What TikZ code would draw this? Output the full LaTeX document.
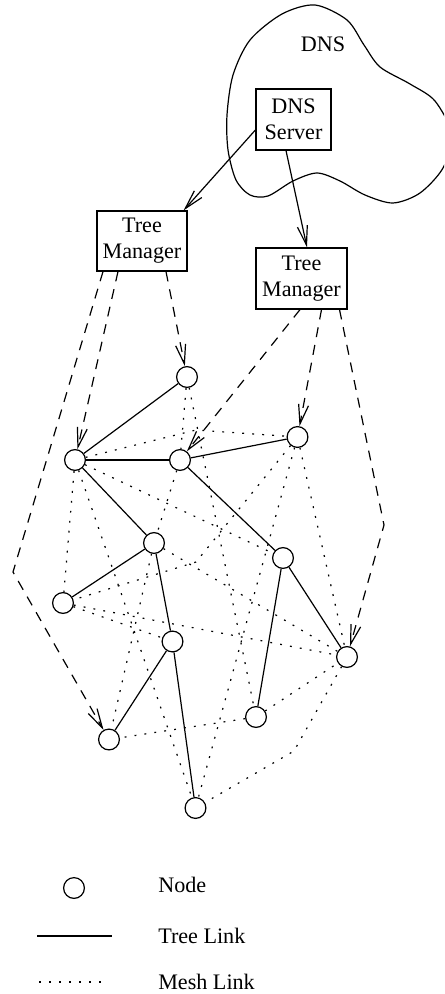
\documentclass[tikz,border=0pt]{standalone}
\usepackage{fontspec}
\setmainfont{Liberation Serif}
\usetikzlibrary{arrows.meta,calc}

\begin{document}
\begin{tikzpicture}[x=0.75pt,y=-0.75pt,
  every node/.style={font=\fontsize{16.6}{19.5}\selectfont},
  outline/.style={line width=0.9pt},
  netnode/.style={circle,draw,line width=0.9pt,minimum size=15.6pt,inner sep=0pt},
  box/.style={draw,line width=0.9pt,align=center,inner sep=0pt},
  label/.style={inner sep=0pt},
  tree/.style={line width=0.9pt},
  mesh/.style={line width=0.9pt,dash pattern=on 1.4pt off 6.1pt},
  tip/.style={-{Straight Barb[length=14.5pt,width=7.5pt]}},
  control/.style={line width=0.9pt,dash pattern=on 7.5pt off 6pt,tip},
  query/.style={line width=0.9pt,tip},
]
\useasboundingbox (0,0) rectangle (444,994);

% DNS cloud (runs off the right edge)
\begin{scope}
  \clip (0,0) rectangle (444,994);
  \draw[outline] plot[smooth cycle, tension=0.5] coordinates {
    (315,5) (347,20) (364,45) (380,67) (410,84) (435,101) (452,135)
    (443,168) (420,193) (393,203) (365,195) (340,181) (317,173)
    (293,181) (268,196) (250,195) (236,180) (228,150) (227,115)
    (233,75) (250,40) (282,14)};
\end{scope}
\node[label,anchor=base] (dnslabel) at (323,52) {DNS};

% servers
\node[box,minimum width=56.25pt,minimum height=45.75pt] (dns) at (293.5,119.5) {DNS\\Server};
\node[box,minimum width=67.5pt,minimum height=45pt] (tm1) at (142,241) {Tree\\Manager};
\node[box,minimum width=68.25pt,minimum height=45.75pt] (tm2) at (301.5,278.5) {Tree\\Manager};

% overlay nodes
\node[netnode] (A) at (187,377) {};
\node[netnode] (B) at (75,460) {};
\node[netnode] (C) at (180,460) {};
\node[netnode] (D) at (297.5,437) {};
\node[netnode] (E) at (154,543) {};
\node[netnode] (F) at (283,558) {};
\node[netnode] (G) at (63,603) {};
\node[netnode] (H) at (172.5,641.5) {};
\node[netnode] (I) at (347,657) {};
\node[netnode] (J) at (256,717) {};
\node[netnode] (K) at (109,739.5) {};
\node[netnode] (L) at (195.5,808) {};

% DNS referrals
\draw[query] ($(dns.west)+(0,10.5)$) -- ($(tm1.north east)+(-4,0)$);
\draw[query] ($(dns.south)+(-7.5,0)$) -- ($(tm2.north)+(5.5,0)$);

% tree manager control links
\coordinate (bendK) at (13,572);
\coordinate (bendI) at (384,525);
\draw[control] ($(tm1.south)+(-39,0)$) -- (bendK) -- (K);
\draw[control] ($(tm1.south)+(-24,0)$) -- (B);
\draw[control] ($(tm1.south)+(24,0)$) -- (A);
\draw[control] ($(tm2.south)+(-1.5,0)$) -- (C);
\draw[control] ($(tm2.south)+(20,0)$) -- (D);
\draw[control] ($(tm2.south)+(38,0)$) -- (bendI) -- (I);

% tree links
\draw[tree] (A) -- (B);
\draw[tree] (B) -- (C);
\draw[tree] (C) -- (D);
\draw[tree] (B) -- (E);
\draw[tree] (C) -- (F);
\draw[tree] (F) -- (I);
\draw[tree] (E) -- (G);
\draw[tree] (E) -- (H);
\draw[tree] (H) -- (K);
\draw[tree] (H) -- (L);
\draw[tree] (F) -- (J);

% mesh links
\coordinate (bendBD) at (196,430);
\coordinate (bendDG) at (196,562);
\coordinate (bendIL) at (294,751);
\draw[mesh] (A) -- (C);
\draw[mesh] (A) -- (J);
\draw[mesh] (B) -- (bendBD) -- (D);
\draw[mesh] (B) -- (G);
\draw[mesh] (B) -- (L);
\draw[mesh] (B) -- (F);
\draw[mesh] (C) -- (E);
\draw[mesh] (D) -- (bendDG) -- (G);
\draw[mesh] (D) -- (L);
\draw[mesh] (D) -- (I);
\draw[mesh] (E) -- (I);
\draw[mesh] (E) -- (K);
\draw[mesh] (G) -- (I);
\draw[mesh] (G) -- (H);
\draw[mesh] (J) -- (I);
\draw[mesh] (J) -- (K);
\draw[mesh] (I) -- (bendIL) -- (L);

% legend
\node[netnode] (legnode) at (74,888) {};
\node[label,anchor=base west] (legnodetext) at (158,892) {Node};
\coordinate (legtreeA) at (37,936);
\coordinate (legtreeB) at (112,936);
\draw[tree] (legtreeA) -- (legtreeB);
\node[label,anchor=base west] (legtreetext) at (158,943.5) {Tree Link};
\coordinate (legmeshA) at (39,982);
\coordinate (legmeshB) at (108,982);
\draw[mesh] (legmeshA) -- (legmeshB);
\node[label,anchor=base west] (legmeshtext) at (158,989) {Mesh Link};
\end{tikzpicture}
\end{document}
